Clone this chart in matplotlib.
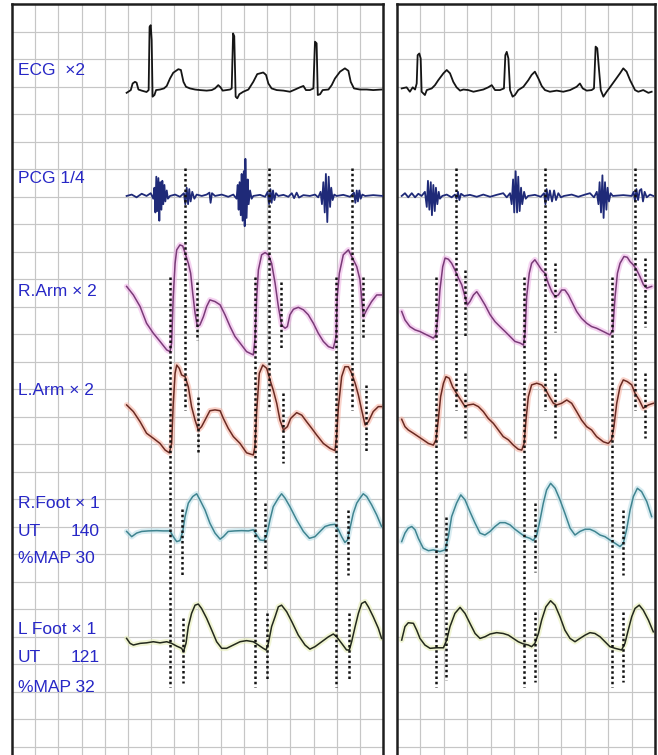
import matplotlib.pyplot as plt

# all values in recorder-paper grid cells (x: time cells from panel edge, y: cells up from trace reference)

# ---- left panel ----
ecg_l_t = [4.94, 5.12, 5.20, 5.30, 5.37, 5.45, 5.59, 5.80, 5.89, 5.93, 5.98, 6.02, 6.06, 6.14, 6.21, 6.38,
           6.55, 6.67, 6.81, 6.95, 7.17, 7.28, 7.39, 7.50, 7.67, 7.89, 8.10, 8.39, 8.61, 8.75, 8.89, 8.99,
           9.08, 9.40, 9.47, 9.53, 9.58, 9.64, 9.71, 9.80, 9.97, 10.19, 10.40, 10.57, 10.83, 10.95, 11.05,
           11.19, 11.41, 11.70, 11.98, 12.20, 12.41, 12.56, 12.67, 12.84, 12.99, 13.06, 13.13, 13.18, 13.28,
           13.39, 13.64, 13.78, 13.92, 14.14, 14.35, 14.50, 14.60, 14.74, 15.00, 15.29, 15.57, 15.93]
ecg_l_v = [-0.10, 0.00, 0.24, 0.30, 0.27, 0.02, -0.02, -0.07, 0.00, 2.30, 2.36, 1.82, -0.24, -0.18, 0.00, 0.02,
           0.06, 0.15, 0.42, 0.63, 0.76, 0.73, 0.30, 0.12, 0.06, 0.02, 0.00, -0.02, 0.00, 0.06, 0.18, 0.10,
           -0.02, 0.02, 0.06, 2.06, 1.96, -0.24, -0.30, -0.15, -0.06, 0.02, 0.30, 0.58, 0.64, 0.55, 0.24,
           0.06, 0.00, -0.02, -0.06, 0.02, 0.10, 0.15, 0.00, 0.00, 0.06, 1.76, 1.70, -0.18, -0.15,
           0.00, 0.02, 0.18, 0.42, 0.67, 0.79, 0.70, 0.30, 0.06, 0.02, 0.02, 0.00, 0.02]

pcg_l_t = [4.94, 5.16, 5.37, 5.59, 5.80, 5.98, 6.09, 6.14, 6.18, 6.22, 6.26, 6.31, 6.35, 6.39, 6.44, 6.48,
           6.52, 6.57, 6.61, 6.67, 6.72, 6.81, 7.03, 7.24, 7.41, 7.47, 7.53, 7.59, 7.64, 7.70, 7.77, 7.86,
           7.96, 8.18, 8.39, 8.51, 8.56, 8.62, 8.75, 9.04, 9.32, 9.54, 9.68, 9.73, 9.77, 9.81, 9.86, 9.90,
           9.94, 9.99, 10.03, 10.06, 10.11, 10.16, 10.20, 10.26, 10.33, 10.40, 10.69, 10.91, 11.02, 11.08,
           11.14, 11.19, 11.25, 11.31, 11.38, 11.48, 11.70, 11.91, 12.06, 12.16, 12.27, 12.37, 12.56, 12.84,
           13.06, 13.20, 13.30, 13.36, 13.42, 13.48, 13.53, 13.59, 13.65, 13.71, 13.76, 13.82, 13.89, 13.99,
           14.28, 14.57, 14.74, 14.80, 14.86, 14.91, 14.97, 15.03, 15.10, 15.22, 15.57, 15.98]
pcg_l_v = [0.00, 0.05, -0.05, 0.08, 0.00, 0.10, -0.10, 0.30, -0.60, 0.70, -0.55, 0.65, -0.90, 0.50, -0.50, 0.55,
           -0.30, 0.40, -0.20, 0.20, -0.10, 0.00, 0.05, -0.03, 0.10, -0.30, 0.30, -0.30, 0.25, -0.20, 0.15, -0.10,
           0.05, 0.00, 0.05, 0.12, -0.25, 0.10, 0.00, 0.05, -0.03, 0.05, -0.10, 0.40, -0.50, 0.50, -0.70, 0.80,
           -0.90, 0.90, -1.10, 1.35, -0.80, 0.60, -0.30, 0.20, -0.10, 0.00, 0.04, -0.03, 0.15, -0.30,
           0.25, -0.25, 0.20, -0.15, 0.10, 0.00, 0.04, -0.03, 0.10, -0.08, 0.12, -0.06, 0.03, 0.00,
           0.05, -0.05, 0.15, -0.30, 0.50, -0.60, 0.80, -0.95, 0.70, -0.40, 0.30, -0.15, 0.05, 0.00,
           0.04, -0.03, 0.12, -0.25, 0.20, -0.20, 0.20, -0.10, 0.05, 0.00, 0.03, 0.00]

rarm_l_t = [4.94, 5.23, 5.52, 5.80, 6.09, 6.38, 6.67, 6.81, 6.88, 6.95, 7.03, 7.10, 7.24, 7.36, 7.46, 7.60,
            7.70, 7.79, 7.89, 7.99, 8.10, 8.25, 8.39, 8.53, 8.75, 8.97, 9.18, 9.40, 9.61, 9.83, 10.11, 10.40,
            10.47, 10.55, 10.62, 10.76, 10.91, 11.05, 11.19, 11.34, 11.48, 11.62, 11.77, 11.87, 11.98, 12.13,
            12.34, 12.56, 12.77, 12.99, 13.20, 13.42, 13.64, 13.85, 13.97, 14.02, 14.11, 14.28, 14.50, 14.64,
            14.86, 15.00, 15.14, 15.29, 15.50, 15.72, 15.93]
rarm_l_v = [1.58, 1.27, 0.85, 0.24, -0.12, -0.42, -0.73, -0.79, -0.48, 1.21, 2.42, 2.91, 3.09, 3.05, 2.79, 2.42,
            2.06, 1.33, 0.61, 0.12, 0.18, 0.48, 0.85, 1.09, 1.03, 0.91, 0.55, 0.12, -0.24, -0.48, -0.79, -0.91,
            -0.36, 1.21, 2.18, 2.73, 2.81, 2.73, 2.42, 1.70, 0.85, 0.18, 0.06, 0.12, 0.55, 0.75,
            0.82, 0.73, 0.55, 0.24, -0.12, -0.42, -0.61, -0.67, -0.24, 1.21, 2.06, 2.73, 2.91, 2.67,
            2.30, 1.82, 0.48, 0.73, 1.03, 1.27, 1.27]

larm_l_t = [4.94, 5.23, 5.52, 5.80, 6.09, 6.38, 6.60, 6.78, 6.88, 6.95, 7.03, 7.10, 7.21, 7.31, 7.46, 7.60,
            7.74, 7.89, 8.03, 8.17, 8.32, 8.53, 8.75, 8.97, 9.11, 9.32, 9.54, 9.83, 10.11, 10.40, 10.47, 10.55,
            10.66, 10.81, 10.98, 11.12, 11.26, 11.41, 11.55, 11.70, 11.87, 12.01, 12.27, 12.49, 12.70, 12.92,
            13.13, 13.42, 13.71, 13.92, 13.99, 14.07, 14.21, 14.35, 14.50, 14.64, 14.79, 14.93, 15.07, 15.22,
            15.36, 15.57, 15.79, 15.93]
larm_l_v = [0.79, 0.55, 0.18, -0.24, -0.42, -0.61, -0.85, -0.95, -0.61, 0.85, 1.94, 2.24, 2.12, 1.88, 1.82, 1.45,
            0.73, 0.24, -0.12, 0.00, 0.24, 0.58, 0.61, 0.58, 0.30, -0.06, -0.36, -0.61, -0.95, -1.03, -0.73, 0.61,
            1.94, 2.24, 2.12, 1.70, 1.33, 0.85, 0.24, -0.12, 0.00, 0.30, 0.51, 0.42, 0.18, -0.06,
            -0.30, -0.61, -0.79, -0.87, -0.36, 0.73, 1.82, 2.18, 2.18, 1.94, 1.58, 1.15, 0.61, 0.06,
            0.18, 0.55, 0.73, 0.73]

rfoot_l_t = [4.94, 5.16, 5.37, 5.59, 5.88, 6.24, 6.52, 6.81, 6.95, 7.10, 7.24, 7.36, 7.46, 7.60, 7.79, 7.96,
             8.10, 8.32, 8.53, 8.75, 8.97, 9.11, 9.32, 9.61, 9.90, 10.19, 10.40, 10.55, 10.69, 10.86, 10.98,
             11.12, 11.26, 11.48, 11.62, 11.77, 11.98, 12.27, 12.56, 12.82, 13.06, 13.28, 13.49, 13.71, 13.92,
             14.07, 14.21, 14.35, 14.46, 14.57, 14.71, 14.86, 15.00, 15.14, 15.29, 15.50, 15.72, 15.93]
rfoot_l_v = [-0.02, -0.21, -0.08, -0.02, 0.00, 0.01, 0.00, 0.00, -0.21, -0.39, -0.35, -0.02, 0.52, 1.01, 1.25, 1.35,
             1.13, 0.76, 0.28, -0.08, -0.30, -0.21, -0.02, 0.00, 0.01, 0.00, 0.04, -0.15, -0.33, -0.35, -0.15,
             0.40, 0.88, 1.19, 1.35, 1.19, 0.88, 0.40, -0.02, -0.27, -0.21, -0.02, 0.16, 0.22, 0.24,
             0.04, -0.21, -0.42, -0.33, 0.10, 0.64, 1.01, 1.19, 1.35, 1.25, 0.95, 0.58, 0.16]

lfoot_l_t = [4.94, 5.09, 5.23, 5.52, 5.80, 6.09, 6.38, 6.67, 6.88, 7.10, 7.31, 7.39, 7.50, 7.60, 7.74, 7.89,
             8.03, 8.17, 8.39, 8.61, 8.82, 9.04, 9.25, 9.54, 9.83, 10.11, 10.40, 10.62, 10.83, 10.95, 11.05,
             11.19, 11.34, 11.48, 11.62, 11.84, 12.06, 12.34, 12.63, 12.84, 13.06, 13.35, 13.64, 13.85, 13.99,
             14.21, 14.42, 14.54, 14.64, 14.79, 14.93, 15.07, 15.22, 15.36, 15.57, 15.79, 15.93]
lfoot_l_v = [0.18, 0.00, -0.06, 0.00, 0.02, 0.06, 0.02, 0.06, 0.00, -0.10, -0.18, -0.30, 0.00, 0.61, 1.09, 1.39,
             1.43, 1.27, 0.91, 0.48, 0.06, -0.18, -0.18, -0.06, 0.06, 0.10, 0.06, -0.06, -0.18, -0.24, 0.00,
             0.61, 0.97, 1.33, 1.39, 1.15, 0.79, 0.30, -0.06, -0.21, -0.12, 0.06, 0.24, 0.34, 0.24,
             0.00, -0.24, -0.24, 0.06, 0.61, 1.09, 1.45, 1.52, 1.33, 0.97, 0.55, 0.18]

# ---- right panel ----
ecg_r_t = [0.20, 0.41, 0.55, 0.67, 0.77, 0.84, 0.88, 0.95, 1.01, 1.05, 1.12, 1.19, 1.27, 1.48, 1.62, 1.76,
           1.98, 2.12, 2.26, 2.40, 2.54, 2.69, 2.83, 3.04, 3.26, 3.47, 3.68, 3.89, 4.04, 4.18, 4.39, 4.56,
           4.62, 4.68, 4.75, 4.82, 4.93, 5.03, 5.17, 5.39, 5.60, 5.74, 5.88, 6.03, 6.17, 6.31, 6.52, 6.81,
           7.09, 7.38, 7.66, 7.80, 7.92, 8.09, 8.30, 8.40, 8.47, 8.54, 8.61, 8.69, 8.80, 8.94, 9.08, 9.30,
           9.51, 9.65, 9.79, 9.94, 10.15, 10.29, 10.50, 10.72, 10.86]
ecg_r_v = [0.06, 0.10, -0.06, 0.10, 0.02, 0.24, 1.27, 1.33, 1.15, -0.06, -0.12, -0.18, 0.00, 0.06, 0.18, 0.36,
           0.61, 0.73, 0.61, 0.30, 0.10, -0.02, 0.02, 0.00, -0.06, -0.02, 0.02, 0.10, 0.18, 0.00, 0.00, 0.06,
           1.27, 1.39, 1.15, 0.00, -0.24, -0.18, 0.00, 0.12, 0.36, 0.55, 0.67, 0.42, 0.15, 0.00, -0.06, -0.02,
           -0.06, 0.00, 0.12, 0.24, 0.06, -0.02, 0.00, 0.06, 1.58, 1.52, 0.79, 0.00, -0.24, -0.06, 0.10, 0.36,
           0.61, 0.79, 0.67, 0.36, 0.00, -0.06, 0.00, -0.10, -0.06]

pcg_r_t = [0.20, 0.34, 0.48, 0.63, 0.77, 0.91, 1.05, 1.19, 1.27, 1.32, 1.38, 1.44, 1.49, 1.55, 1.61, 1.66,
           1.72, 1.78, 1.83, 1.93, 2.12, 2.33, 2.47, 2.54, 2.60, 2.66, 2.73, 2.86, 3.11, 3.40, 3.68, 3.97,
           4.25, 4.53, 4.68, 4.82, 4.89, 4.95, 5.00, 5.06, 5.12, 5.17, 5.23, 5.29, 5.34, 5.42, 5.49, 5.59,
           5.88, 6.13, 6.27, 6.33, 6.38, 6.45, 6.52, 6.61, 6.70, 6.78, 6.88, 6.99, 7.12, 7.45, 7.73, 8.02,
           8.23, 8.40, 8.52, 8.59, 8.64, 8.70, 8.76, 8.81, 8.87, 8.93, 8.98, 9.04, 9.11, 9.20, 9.65, 10.01,
           10.09, 10.15, 10.21, 10.28, 10.35, 10.42, 10.49, 10.56, 10.65, 10.79, 10.93]
pcg_r_v = [0.00, 0.10, -0.05, 0.10, -0.05, 0.08, 0.00, 0.15, -0.40, 0.55, -0.50, 0.50, -0.70, 0.40, -0.55, 0.30,
           -0.30, 0.15, -0.10, 0.00, 0.05, -0.05, 0.05, -0.10, 0.15, -0.15, 0.08, 0.00, 0.04, -0.03, 0.05, -0.03,
           0.04, 0.10, -0.05, 0.10, -0.30, 0.60, -0.60, 0.90, -0.60, 0.70, -0.55, 0.30, -0.30, 0.15, -0.10, 0.00,
           0.04, -0.03, 0.10, -0.30, 0.25, -0.15, 0.20, -0.20, 0.20, -0.15, 0.10, -0.05, 0.00, 0.05, -0.03, 0.05,
           0.10, -0.05, 0.15, -0.30, 0.50, -0.60, 0.75, -0.80, 0.50, -0.50, 0.30, -0.20, 0.10, 0.00, 0.03, 0.00,
           0.15, -0.20, 0.25, -0.15, 0.20, 0.25, -0.20, 0.15, -0.05, 0.05, 0.00]

rarm_r_t = [0.20, 0.34, 0.55, 0.77, 0.98, 1.19, 1.41, 1.55, 1.66, 1.76, 1.83, 1.95, 2.05, 2.19, 2.33, 2.47,
            2.62, 2.76, 2.90, 3.00, 3.11, 3.26, 3.40, 3.54, 3.75, 3.97, 4.18, 4.39, 4.61, 4.82, 5.03, 5.25,
            5.39, 5.46, 5.53, 5.64, 5.74, 5.88, 6.03, 6.17, 6.31, 6.45, 6.60, 6.74, 6.88, 7.02, 7.16, 7.31,
            7.45, 7.66, 7.87, 8.09, 8.30, 8.51, 8.80, 9.08, 9.20, 9.30, 9.40, 9.51, 9.68, 9.82, 9.94, 10.08,
            10.22, 10.36, 10.51, 10.65, 10.86]
rarm_r_v = [0.67, 0.36, 0.12, 0.00, -0.06, -0.15, -0.24, -0.30, -0.18, 0.61, 1.45, 2.30, 2.61, 2.57, 2.42, 2.18,
            1.88, 1.64, 1.21, 0.91, 1.03, 1.27, 1.39, 1.21, 0.91, 0.55, 0.30, 0.12, -0.06, -0.24, -0.42, -0.48,
            -0.55, -0.12, 1.21, 2.06, 2.42, 2.55, 2.36, 2.18, 2.06, 1.70, 1.39, 1.21, 1.27, 1.45, 1.45, 1.27,
            1.03, 0.67, 0.42, 0.24, 0.12, 0.06, -0.06, -0.18, 0.00, 1.21, 2.06, 2.42, 2.67, 2.64, 2.48, 2.36,
            2.18, 1.94, 1.64, 1.52, 1.58]

larm_r_t = [0.20, 0.34, 0.48, 0.70, 0.91, 1.12, 1.34, 1.55, 1.66, 1.76, 1.86, 1.98, 2.09, 2.23, 2.37, 2.54,
            2.72, 2.90, 3.04, 3.26, 3.47, 3.68, 3.89, 4.11, 4.32, 4.53, 4.75, 4.96, 5.17, 5.32, 5.42, 5.50,
            5.60, 5.74, 5.96, 6.17, 6.31, 6.50, 6.67, 6.81, 7.02, 7.24, 7.45, 7.66, 7.87, 8.09, 8.30, 8.51,
            8.80, 9.01, 9.15, 9.25, 9.37, 9.51, 9.65, 9.82, 10.01, 10.15, 10.33, 10.50, 10.72, 10.93]
larm_r_v = [0.27, 0.00, -0.12, -0.24, -0.36, -0.48, -0.61, -0.67, -0.48, 0.24, 1.09, 1.58, 1.82, 1.76, 1.45, 1.21,
            0.97, 0.73, 0.79, 0.82, 0.73, 0.55, 0.30, 0.12, -0.12, -0.36, -0.48, -0.67, -0.82, -0.85, -0.61, 0.24,
            1.09, 1.52, 1.58, 1.52, 1.39, 1.09, 0.85, 0.79, 0.85, 0.97, 0.85, 0.55, 0.24, 0.00, -0.12, -0.36,
            -0.55, -0.61, -0.48, 0.00, 0.85, 1.45, 1.70, 1.64, 1.52, 1.21, 0.97, 0.67, 0.79, 0.85]

rfoot_r_t = [0.20, 0.34, 0.48, 0.63, 0.77, 0.91, 1.12, 1.34, 1.55, 1.83, 2.05, 2.19, 2.33, 2.54, 2.72, 2.90,
             3.11, 3.33, 3.54, 3.75, 3.97, 4.18, 4.39, 4.61, 4.82, 5.03, 5.25, 5.46, 5.67, 5.81, 5.96, 6.10,
             6.24, 6.38, 6.55, 6.74, 6.95, 7.16, 7.38, 7.59, 7.80, 8.02, 8.23, 8.44, 8.66, 8.87, 9.08, 9.30,
             9.51, 9.65, 9.79, 9.94, 10.08, 10.25, 10.43, 10.65, 10.86]
rfoot_r_v = [-0.39, -0.08, 0.10, 0.16, 0.04, -0.27, -0.63, -0.72, -0.69, -0.75, -0.69, -0.21, 0.52, 1.01, 1.31, 1.13,
             0.70, 0.28, -0.08, -0.15, -0.02, 0.16, 0.30, 0.30, 0.22, 0.06, -0.08, -0.21, -0.27, -0.35, -0.15, 0.40,
             1.01, 1.49, 1.73, 1.55, 1.13, 0.64, 0.10, -0.15, -0.02, 0.06, 0.06, -0.02, -0.15, -0.21, -0.33, -0.45,
             -0.57, -0.45, 0.04, 0.76, 1.25, 1.55, 1.43, 1.07, 0.52]

lfoot_r_t = [0.20, 0.34, 0.48, 0.70, 0.84, 0.98, 1.19, 1.41, 1.69, 1.98, 2.12, 2.26, 2.47, 2.69, 2.90, 3.11,
             3.33, 3.54, 3.75, 3.97, 4.25, 4.53, 4.75, 4.96, 5.17, 5.39, 5.60, 5.74, 5.88, 6.03, 6.17, 6.35,
             6.55, 6.74, 6.95, 7.16, 7.38, 7.59, 7.80, 8.02, 8.23, 8.44, 8.66, 8.87, 9.08, 9.30, 9.58, 9.72,
             9.86, 10.01, 10.15, 10.33, 10.50, 10.72, 10.93]
lfoot_r_v = [0.12, 0.61, 0.75, 0.73, 0.48, 0.18, -0.06, -0.18, -0.16, -0.16, 0.12, 0.61, 1.09, 1.31, 1.09, 0.73,
             0.36, 0.18, 0.24, 0.34, 0.39, 0.36, 0.30, 0.18, 0.06, -0.02, -0.06, -0.12, 0.00, 0.36, 0.85, 1.33,
             1.55, 1.39, 0.97, 0.48, 0.18, 0.06, 0.18, 0.30, 0.39, 0.36, 0.24, 0.06, -0.12, -0.18, -0.24, 0.00,
             0.48, 0.97, 1.27, 1.39, 1.21, 0.85, 0.42]

# dotted timing markers: (time, top, bottom) in cells from the top border
marks_l = [(6.81, 9.93, 24.84), (7.46, 5.96, 14.76), (7.97, 10.11, 12.22), (8.02, 14.29, 16.29),
           (7.33, 18.36, 20.76), (7.37, 22.33, 24.69),
           (10.47, 9.93, 24.84), (11.08, 5.96, 14.76), (11.60, 10.11, 12.51), (11.68, 14.15, 16.69),
           (10.90, 18.15, 20.58), (10.98, 22.15, 24.60),
           (13.97, 9.93, 24.84), (14.66, 5.96, 14.76), (15.13, 9.93, 12.22), (15.24, 13.86, 16.29),
           (14.47, 18.40, 20.76), (14.54, 22.15, 24.60)]
marks_r = [(1.66, 9.93, 24.84), (2.52, 5.96, 14.76), (2.90, 9.67, 12.11), (2.90, 13.42, 15.78),
           (2.09, 18.65, 24.58),
           (5.42, 9.93, 24.84), (6.31, 5.96, 14.76), (6.74, 9.42, 11.93), (6.74, 13.42, 15.78),
           (5.88, 18.15, 20.65), (5.88, 22.11, 24.65),
           (9.17, 9.93, 24.84), (10.15, 5.96, 14.76), (10.58, 9.24, 11.75), (10.58, 13.42, 15.78),
           (9.64, 18.40, 20.76), (9.64, 22.11, 24.65)]

labels = [("ECG  \u00d72", 2.40), ("PCG 1/4", 6.33), ("R.Arm \u00d7 2", 10.47), ("L.Arm \u00d7 2", 14.04),
          ("R.Foot \u00d7 1", 18.15), ("UT", 19.20), ("%MAP 30", 20.15),
          ("L Foot \u00d7 1", 22.76), ("UT", 23.78), ("%MAP 32", 24.84)]
ut_values = [("140", 19.20), ("121", 23.78)]

# trace reference rows (cells below the top border)
rows = {"ecg": 3.13, "pcg": 6.98, "rarm": 11.85, "larm": 15.37, "rfoot": 19.16, "lfoot": 23.25}

W, H = 658, 755
CELL_W_L, CELL_W_R, CELL_H = 23.2, 23.45, 27.5
fig = plt.figure(figsize=(W / 100, H / 100), dpi=100)
fig.patch.set_facecolor("white")
depth = (H - 4) / CELL_H
ax_l = fig.add_axes([12 / W, 0, 16 * CELL_W_L / W, (H - 4) / H])
ax_r = fig.add_axes([397 / W, 0, 11 * CELL_W_R / W, (H - 4) / H])

for ax, ncol in [(ax_l, 16), (ax_r, 11)]:
    ax.set_xlim(0, ncol)
    ax.set_ylim(-depth, 0)
    for k in range(1, ncol):
        ax.axvline(k, color="#c6c6c6", lw=0.85, zorder=0)
    for k in range(1, int(depth) + 1):
        ax.axhline(-k, color="#c6c6c6", lw=0.85, zorder=0)
    ax.set_xticks([])
    ax.set_yticks([])
    for side in ["top", "left", "right"]:
        ax.spines[side].set_linewidth(1.8)
        ax.spines[side].set_color("#1e1e1e")
    ax.spines["bottom"].set_visible(False)


def trace(ax, t, v, row, core, halo=None, lw=1.1):
    y = [val - rows[row] for val in v]
    if halo:
        ax.plot(t, y, color=halo, lw=4, alpha=0.55, solid_capstyle="round", zorder=2)
    ax.plot(t, y, color=core, lw=lw, zorder=3)


for ax, tr in [(ax_l, [ecg_l_t, ecg_l_v, pcg_l_t, pcg_l_v, rarm_l_t, rarm_l_v, larm_l_t, larm_l_v,
                       rfoot_l_t, rfoot_l_v, lfoot_l_t, lfoot_l_v]),
               (ax_r, [ecg_r_t, ecg_r_v, pcg_r_t, pcg_r_v, rarm_r_t, rarm_r_v, larm_r_t, larm_r_v,
                       rfoot_r_t, rfoot_r_v, lfoot_r_t, lfoot_r_v])]:
    trace(ax, tr[0], tr[1], "ecg", "#151515", lw=1.3)
    trace(ax, tr[2], tr[3], "pcg", "#1f2a78", lw=1.3)
    trace(ax, tr[4], tr[5], "rarm", "#7a3a78", "#eeb0e6")
    trace(ax, tr[6], tr[7], "larm", "#6a2a22", "#f6b0a0")
    trace(ax, tr[8], tr[9], "rfoot", "#3f8490", "#b8dde6")
    trace(ax, tr[10], tr[11], "lfoot", "#23291c", "#e6eeb4")

for ax, marks in [(ax_l, marks_l), (ax_r, marks_r)]:
    for t, top, bot in marks:
        ax.plot([t, t], [-top, -bot], color="#111111", lw=1.8, linestyle=(0, (1, 1.1)), zorder=4)

for text, row in labels:
    ax_l.text(0.26, -row, text, color="#2727c6", fontsize=12.5, family="Liberation Sans",
              va="center", ha="left", zorder=5)
for text, row in ut_values:
    ax_l.text(3.78, -row, text, color="#2727c6", fontsize=12.5, family="Liberation Sans",
              va="center", ha="right", zorder=5)

fig.savefig("out.png", dpi=100, facecolor="white")
